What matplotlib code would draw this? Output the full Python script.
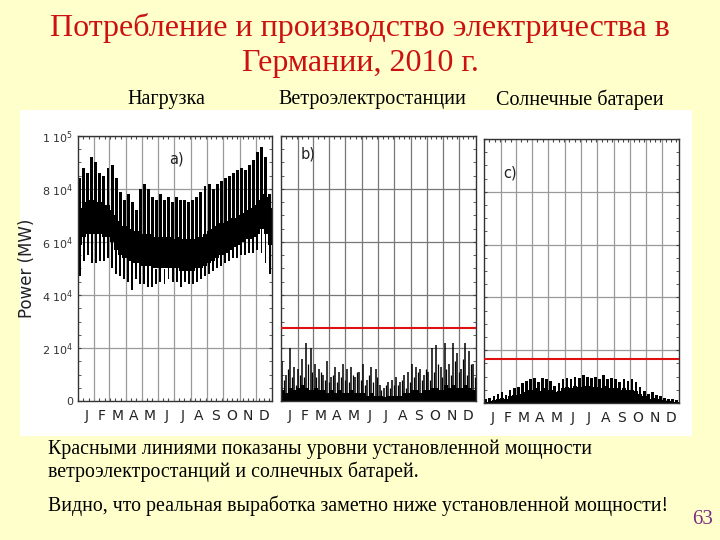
import numpy as np
import matplotlib
matplotlib.use('Agg')
import matplotlib.pyplot as plt
from matplotlib.patches import Rectangle

plt.rcParams['mathtext.default'] = 'regular'

# months and bins (4 bins per month, ~7.6 days each)
months = ['J', 'F', 'M', 'A', 'M', 'J', 'J', 'A', 'S', 'O', 'N', 'D']
month_days = [31, 28, 31, 30, 31, 30, 31, 31, 30, 31, 30, 31]

# a) load, thousands of MW
load_max = [84, 88, 86, 92, 90, 86, 85, 88, 89, 84, 79, 76,
            78, 75, 72, 80, 82, 80, 77, 76, 78, 76, 77, 75,
            77, 76, 76, 75, 76, 77, 79, 81, 82, 80, 82, 83,
            84, 85, 86, 87, 88, 87, 89, 91, 94, 96, 92, 78]
load_min = [47, 53, 55, 52, 52, 53, 53, 54, 50, 48, 47, 46,
            45, 42, 46, 44, 44, 43, 43, 44, 45, 44, 46, 45,
            45, 43, 45, 44, 44, 45, 46, 47, 48, 49, 50, 51,
            52, 53, 54, 54, 55, 55, 56, 56, 57, 56, 52, 48]
core_hi = [73, 75, 76, 76, 75, 75, 74, 74, 72, 70, 68, 66,
           65, 64, 64, 63, 63, 63, 62, 62, 62, 62, 62, 61,
           62, 61, 61, 61, 61, 62, 62, 63, 64, 65, 66, 67,
           68, 69, 69, 70, 71, 72, 73, 74, 76, 78, 77, 73]
core_lo = [59, 62, 63, 63, 63, 63, 62, 62, 60, 57, 55, 54,
           53, 52, 52, 51, 51, 51, 50, 50, 50, 50, 50, 50,
           50, 49, 49, 49, 49, 50, 50, 51, 52, 53, 54, 55,
           56, 57, 58, 59, 60, 61, 61, 62, 63, 65, 63, 59]

# b) wind
wind_peak = [15, 10, 20, 13, 12, 16, 22, 20, 14, 12, 10, 15,
             9, 13, 11, 14, 12, 13, 9, 11, 14, 8, 13, 12,
             6, 5, 7, 8, 9, 7, 10, 11, 14, 13, 12, 10,
             11, 20, 21, 13, 22, 14, 22, 18, 12, 22, 19, 14]
wind_peak2 = [8, 12, 9, 6, 10, 9, 14, 11, 9, 11, 8, 7,
              10, 7, 9, 8, 7, 10, 11, 8, 6, 10, 7, 9,
              4, 6, 5, 6, 6, 8, 5, 7, 9, 11, 8, 12,
              8, 11, 14, 9, 12, 10, 15, 11, 16, 10, 14, 9]
wind_base = [4, 3, 5, 4, 5, 6, 5, 4, 5, 4, 4, 3,
             4, 3, 4, 3, 3, 4, 3, 3, 3, 2, 3, 2,
             2, 1.5, 2, 2, 2, 2, 3, 3, 4, 4, 3, 4,
             4, 5, 5, 4, 6, 5, 6, 5, 5, 6, 5, 4]
wind_installed = 27.5

# c) solar
solar_peak = [1.5, 2.0, 2.5, 3.5, 4.0, 3.0, 5.0, 5.5, 6.0, 7.5, 8.5, 9.0,
              9.5, 8.0, 9.5, 9.0, 8.5, 6.5, 7.5, 9.0, 9.5, 9.0, 10.0, 9.5,
              10.5, 10.0, 9.5, 10.0, 9.0, 10.5, 9.0, 9.5, 9.0, 8.0, 9.0, 8.5,
              9.0, 8.0, 6.0, 4.5, 3.5, 4.0, 3.0, 2.5, 2.0, 1.5, 1.5, 1.0]
solar_base = [0.5, 0.8, 1.0, 1.5, 2.0, 1.5, 2.5, 3.0, 3.5, 4.0, 5.0, 5.0,
              5.5, 4.5, 5.5, 5.0, 5.0, 4.0, 4.5, 5.5, 6.0, 5.5, 6.5, 6.0,
              6.5, 6.5, 6.0, 6.0, 5.5, 6.5, 5.5, 5.5, 5.5, 5.0, 5.5, 5.0,
              5.0, 4.5, 3.5, 2.5, 1.5, 2.0, 1.5, 1.0, 0.8, 0.6, 0.5, 0.4]
solar_installed = 16.8

k = 1000.0
nb = len(load_max)
bw = 365.0 / nb
xs = np.arange(nb) * bw
month_starts = np.concatenate([[0], np.cumsum(month_days)])
month_centers = (month_starts[:-1] + month_starts[1:]) / 2

fig = plt.figure(figsize=(7.2, 5.4), dpi=100)
fig.patch.set_facecolor('#FFFFCC')
fig.patches.append(Rectangle((20 / 720, 1 - 436 / 540), 672 / 720, 326 / 540,
                             transform=fig.transFigure, facecolor='white',
                             edgecolor='none', zorder=-5))

serif = 'Liberation Serif'
red = '#CC1111'
fig.text(0.5, 1 - 28 / 540, 'Потребление и производство электричества в',
         ha='center', va='center', fontsize=23, color=red, family=serif)
fig.text(0.5, 1 - 64 / 540, 'Германии, 2010 г.',
         ha='center', va='center', fontsize=23, color=red, family=serif)
for x, t in [(166, 'Нагрузка'), (372, 'Ветроэлектростанции'), (580, 'Солнечные батареи')]:
    fig.text(x / 720, 1 - 100 / 540, t, ha='center', va='center',
             fontsize=14.5, family=serif)

ax_a = fig.add_axes([78 / 720, 1 - 401 / 540, 194 / 720, 265 / 540])
ax_b = fig.add_axes([281 / 720, 1 - 401 / 540, 195 / 720, 265 / 540])
ax_c = fig.add_axes([484 / 720, 1 - 403 / 540, 195 / 720, 264 / 540])


def style(ax, ylabels, gridcol):
    ax.set_xlim(0, 365)
    ax.set_ylim(0, 1e5)
    for s in ax.spines.values():
        s.set_color('#333333')
        s.set_linewidth(1.0)
    for m in month_starts[1:-1]:
        ax.axvline(m, color=gridcol, lw=0.9, zorder=0.5)
    for yv in np.arange(20000, 100001, 20000):
        ax.axhline(yv, color=gridcol, lw=0.9, zorder=0.5)
    ax.set_xticks(month_centers)
    ax.set_xticklabels(months, fontsize=10, color='#222222')
    ax.tick_params(axis='x', length=0, pad=6)
    ax.set_yticks(np.arange(0, 100001, 20000))
    ax.set_yticks(np.arange(0, 100001, 5000), minor=True)
    ax.tick_params(axis='y', which='both', direction='in', left=True, right=True,
                   length=2.5, color='#444444')
    if ylabels:
        ax.set_yticklabels(['0', '2 10$^4$', '4 10$^4$', '6 10$^4$', '8 10$^4$', '1 10$^5$'],
                           fontsize=8, color='#333333')
    else:
        ax.set_yticklabels([])
    for side in ['top', 'bottom']:
        sec = ax.secondary_xaxis(side)
        sec.set_xticks(np.arange(0, 366, 10))
        sec.tick_params(direction='in', length=2.5, color='#444444',
                        labeltop=False, labelbottom=False)
        sec.spines[side].set_visible(False)


style(ax_a, True, '#9a9a9a')
style(ax_b, False, '#777777')
style(ax_c, False, '#9a9a9a')

# a) load
lmax = np.array(load_max) * k
lmin = np.array(load_min) * k
chi = np.array(core_hi) * k
clo = np.array(core_lo) * k
ax_a.fill_between(np.append(xs, 365), np.append(clo, clo[-1]), np.append(chi, chi[-1]),
                  step='post', color='black', lw=0, zorder=2)
ax_a.bar(xs + 0.4, lmax - chi, bottom=chi, width=5.6, align='edge', color='black', zorder=2)
ax_a.bar(xs + 1.2, clo - lmin, bottom=lmin, width=3.6, align='edge', color='black', zorder=2)
ax_a.set_ylabel('Power (MW)', fontsize=12, color='#222222', labelpad=4)
ax_a.text(0.47, 0.94, 'a)', transform=ax_a.transAxes, fontsize=10.5, color='#222222', va='top')

# b) wind
wp = np.array(wind_peak) * k
wp2 = np.array(wind_peak2) * k
wb = np.array(wind_base) * k
ax_b.fill_between(np.append(xs, 365), 0, np.append(wb, wb[-1]), step='post',
                  color='black', lw=0, zorder=2)
ax_b.vlines(xs + 2, 0, wp, color='black', lw=1.1, zorder=2)
ax_b.vlines(xs + 5.5, 0, wp2, color='black', lw=0.9, zorder=2)
ax_b.axhline(wind_installed * k, color='#DD1111', lw=1.5, zorder=3)
ax_b.text(0.1, 0.96, 'b)', transform=ax_b.transAxes, fontsize=10.5, color='#222222', va='top')

# c) solar
sp = np.array(solar_peak) * k
sb = np.array(solar_base) * k
ax_c.fill_between(np.append(xs, 365), 0, np.append(sb, sb[-1]), step='post',
                  color='black', lw=0, zorder=2)
ax_c.bar(xs + 0.8, sp, width=5.0, align='edge', color='black', zorder=2)
ax_c.axhline(solar_installed * k, color='#DD1111', lw=1.5, zorder=3)
ax_c.text(0.1, 0.9, 'c)', transform=ax_c.transAxes, fontsize=10.5, color='#222222', va='top')

# bottom text
fig.text(48 / 720, 1 - 449 / 540, 'Красными линиями показаны уровни установленной мощности',
         ha='left', va='center', fontsize=14.3, family=serif)
fig.text(48 / 720, 1 - 472 / 540, 'ветроэлектростанций и солнечных батарей.',
         ha='left', va='center', fontsize=14.3, family=serif)
fig.text(48 / 720, 1 - 506 / 540, 'Видно, что реальная выработка заметно ниже установленной мощности!',
         ha='left', va='center', fontsize=14.3, family=serif)
fig.text(703 / 720, 1 - 519 / 540, '63', ha='center', va='center', fontsize=15,
         color='#7B2C83', family=serif)

fig.savefig('out.png', dpi=100, facecolor=fig.get_facecolor())
